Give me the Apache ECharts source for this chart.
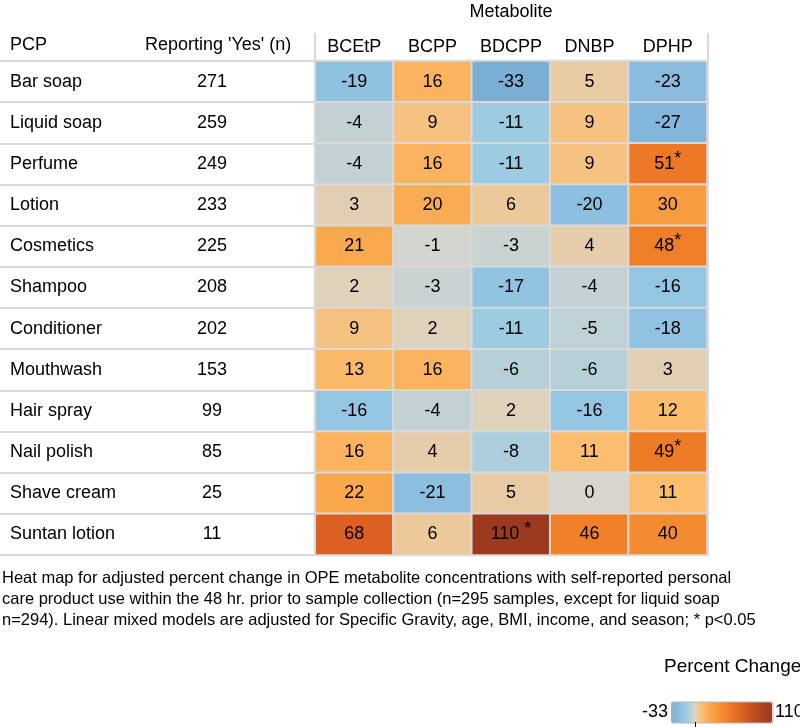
<!DOCTYPE html>
<html>
<head>
<meta charset="utf-8">
<script src="https://cdn.jsdelivr.net/npm/echarts@6/dist/echarts.min.js"></script>
<style>
html,body{margin:0;padding:0;background:#fff;}
#chart{width:800px;height:727px;}
</style>
</head>
<body>
<div id="chart"></div>
<script>
// ---- data ----
var products = ['Bar soap','Liquid soap','Perfume','Lotion','Cosmetics','Shampoo','Conditioner','Mouthwash','Hair spray','Nail polish','Shave cream','Suntan lotion'];
var reportingYes = [271,259,249,233,225,208,202,153,99,85,25,11];
var metabolites = ['BCEtP','BCPP','BDCPP','DNBP','DPHP'];
var BCEtP = [-19,-4,-4,3,21,2,9,13,-16,16,22,68];
var BCPP  = [16,9,16,20,-1,-3,2,16,-4,4,-21,6];
var BDCPP = [-33,-11,-11,6,-3,-17,-11,-6,2,-8,5,110];
var DNBP  = [5,9,9,-20,4,-4,-5,-6,-16,11,0,46];
var DPHP  = [-23,-27,51,30,48,-16,-18,3,12,49,11,40];
var significant = {'Perfume|DPHP':'*','Cosmetics|DPHP':'*','Nail polish|DPHP':'*','Suntan lotion|BDCPP':' *'};
var scaleMin = -33, scaleMax = 110;
var legendLabels = ['110','-33'];
var caption = "Heat map for adjusted percent change in OPE metabolite concentrations with self-reported personal\ncare product use within the 48 hr. prior to sample collection (n=295 samples, except for liquid soap\nn=294). Linear mixed models are adjusted for Specific Gravity, age, BMI, income, and season; * p<0.05";

var columns = [BCEtP, BCPP, BDCPP, DNBP, DPHP];
var heatData = [];
columns.forEach(function (col, ci) {
  col.forEach(function (v, ri) { heatData.push([ci, ri, v]); });
});

var FONT = '"Liberation Sans", Arial, sans-serif';
var chart = echarts.init(document.getElementById('chart'), null, {renderer: 'canvas'});
var GRAY = '#d9d9d9';

chart.setOption({
  backgroundColor: '#ffffff',
  animation: false,
  textStyle: {fontFamily: FONT},
  grid: [
    {left: 315, top: 61, width: 392, height: 494, outerBoundsMode: 'none', containLabel: false},
    {left: 0, top: 61, width: 315, height: 494, outerBoundsMode: 'none', containLabel: false}
  ],
  xAxis: [
    {type: 'category', gridIndex: 0, data: metabolites, position: 'top',
     axisLine: {show: false}, axisTick: {show: false}, splitLine: {show: false},
     axisLabel: {fontSize: 18, color: '#000', margin: 5, interval: 0, fontFamily: FONT},
     name: 'Metabolite', nameLocation: 'middle', nameGap: 40,
     nameTextStyle: {fontSize: 18, color: '#000', fontFamily: FONT}},
    {type: 'value', gridIndex: 1, show: false, min: 0, max: 1}
  ],
  yAxis: [
    {type: 'category', gridIndex: 0, data: products, inverse: true,
     axisLine: {show: false}, axisTick: {show: false}, axisLabel: {show: false}, splitLine: {show: false}},
    {type: 'category', gridIndex: 1, data: products, inverse: true,
     axisLine: {show: false}, axisTick: {show: false},
     splitLine: {show: true, lineStyle: {color: GRAY, width: 2}},
     axisLabel: {
       align: 'left', margin: -10, color: '#000', fontSize: 18, interval: 0, fontFamily: FONT,
       formatter: function (val, idx) {
         return '{a|' + val + '}{b|' + reportingYes[idx] + '}';
       },
       rich: {
         a: {width: 160, align: 'left', fontSize: 18, color: '#000', fontFamily: FONT},
         b: {width: 84, align: 'center', fontSize: 18, color: '#000', fontFamily: FONT}
       }
     }}
  ],
  visualMap: {
    type: 'continuous', min: scaleMin, max: scaleMax, orient: 'horizontal',
    left: 642, top: 702, itemWidth: 21, itemHeight: 101, padding: 0,
    text: legendLabels, textGap: 3, calculable: false, hoverLink: false,
    seriesIndex: 0,
    textStyle: {fontSize: 18, color: '#000', fontFamily: FONT},
    inRange: {color: ['#7aaed4','#8abde0','#9ccbe2','#d8d6cc','#fbbe70','#f9a84c','#f6973a','#f2852a','#ea7124','#de6321','#cd5520','#bb4a20','#aa4120','#9c3a20']}
  },
  series: [{
    type: 'heatmap', xAxisIndex: 0, yAxisIndex: 0, data: heatData,
    itemStyle: {borderColor: GRAY, borderWidth: 2},
    label: {
      show: true, color: '#000', fontSize: 18, fontFamily: FONT,
      formatter: function (p) {
        var key = products[p.value[1]] + '|' + metabolites[p.value[0]];
        var s = significant[key];
        return p.value[2] + (s ? '{s|' + s + '}' : '');
      },
      rich: {s: {fontSize: 18, color: '#000', fontFamily: FONT, padding: [0, 0, 10, 0]}}
    },
    emphasis: {disabled: true}
  }],
  graphic: [
    {type: 'line', shape: {x1: 315, y1: 33, x2: 315, y2: 556}, style: {stroke: GRAY, lineWidth: 2}, z: 10},
    {type: 'line', shape: {x1: 708, y1: 33, x2: 708, y2: 556}, style: {stroke: GRAY, lineWidth: 2}, z: 10},
    {type: 'text', left: 10, top: 36, style: {text: 'PCP', fontSize: 18, fill: '#000', fontFamily: FONT}},
    {type: 'text', left: 145, top: 36, style: {text: "Reporting 'Yes' (n)", fontSize: 18, fill: '#000', fontFamily: FONT}},
    {type: 'text', left: 2, top: 568, style: {text: caption, fontSize: 16.5, lineHeight: 21, fill: '#000', fontFamily: FONT}},
    {type: 'text', left: 664, top: 657, style: {text: 'Percent Change', fontSize: 19, fill: '#000', fontFamily: FONT}},
    {type: 'rect', shape: {x: 672, y: 702, width: 101, height: 21}, style: {fill: 'none', stroke: '#b8b8b8', lineWidth: 1}, z: 20},
    {type: 'line', shape: {x1: 695.5, y1: 722, x2: 695.5, y2: 727}, style: {stroke: '#000', lineWidth: 1}, z: 20}
  ]
});
</script>
</body>
</html>
